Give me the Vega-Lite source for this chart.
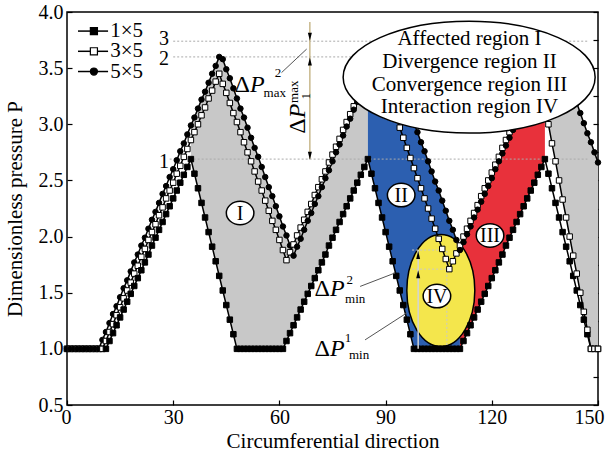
{
"$schema":"https://vega.github.io/schema/vega-lite/v6.json",
"width":531,"height":393,"autosize":"none",
"padding":{"left":67,"top":12,"right":12,"bottom":56},
"background":"white",
"config":{
 "view":{"stroke":"black","strokeWidth":1.5},
 "font":"Liberation Serif",
 "axis":{"grid":false,"domain":false,"labelFont":"Liberation Serif","labelFontSize":20,"labelColor":"black","tickColor":"black","tickWidth":1.2,"titleFont":"Liberation Serif","titleFontSize":21,"titleFontWeight":"normal","titleColor":"black"}
},
"resolve":{"axis":{"y":"independent"}},
"datasets":{"p":[
{"x":0,"1×5":1,"3×5":1,"5×5":1},{"x":1,"1×5":1,"3×5":1,"5×5":1},{"x":2,"1×5":1,"3×5":1,"5×5":1},{"x":3,"1×5":1,"3×5":1,"5×5":1},{"x":4,"1×5":1,"3×5":1,"5×5":1},{"x":5,"1×5":1,"3×5":1,"5×5":1},{"x":6,"1×5":1,"3×5":1,"5×5":1},{"x":7,"1×5":1,"3×5":1,"5×5":1},{"x":8,"1×5":1,"3×5":1,"5×5":1},{"x":9,"1×5":1,"3×5":1,"5×5":1},
{"x":10,"1×5":1,"3×5":1,"5×5":1.08},{"x":11,"1×5":1,"3×5":1.07,"5×5":1.15},{"x":12,"1×5":1.07,"3×5":1.15,"5×5":1.23},{"x":13,"1×5":1.14,"3×5":1.22,"5×5":1.31},{"x":14,"1×5":1.21,"3×5":1.30,"5×5":1.38},{"x":15,"1×5":1.28,"3×5":1.37,"5×5":1.46},{"x":16,"1×5":1.35,"3×5":1.45,"5×5":1.54},{"x":17,"1×5":1.42,"3×5":1.52,"5×5":1.61},{"x":18,"1×5":1.49,"3×5":1.59,"5×5":1.69},{"x":19,"1×5":1.56,"3×5":1.67,"5×5":1.77},
{"x":20,"1×5":1.63,"3×5":1.74,"5×5":1.84},{"x":21,"1×5":1.70,"3×5":1.82,"5×5":1.92},{"x":22,"1×5":1.77,"3×5":1.89,"5×5":1.99},{"x":23,"1×5":1.84,"3×5":1.97,"5×5":2.07},{"x":24,"1×5":1.92,"3×5":2.04,"5×5":2.15},{"x":25,"1×5":1.99,"3×5":2.11,"5×5":2.22},{"x":26,"1×5":2.06,"3×5":2.19,"5×5":2.30},{"x":27,"1×5":2.13,"3×5":2.26,"5×5":2.38},{"x":28,"1×5":2.20,"3×5":2.34,"5×5":2.45},{"x":29,"1×5":2.27,"3×5":2.41,"5×5":2.53},
{"x":30,"1×5":2.34,"3×5":2.48,"5×5":2.60},{"x":31,"1×5":2.41,"3×5":2.56,"5×5":2.68},{"x":32,"1×5":2.48,"3×5":2.63,"5×5":2.76},{"x":33,"1×5":2.55,"3×5":2.71,"5×5":2.83},{"x":34,"1×5":2.62,"3×5":2.78,"5×5":2.91},{"x":35,"1×5":2.69,"3×5":2.86,"5×5":2.99},{"x":36,"1×5":2.56,"3×5":2.93,"5×5":3.06},{"x":37,"1×5":2.43,"3×5":3.00,"5×5":3.14},{"x":38,"1×5":2.30,"3×5":3.08,"5×5":3.22},{"x":39,"1×5":2.17,"3×5":3.15,"5×5":3.29},
{"x":40,"1×5":2.04,"3×5":3.23,"5×5":3.37},{"x":41,"1×5":1.91,"3×5":3.30,"5×5":3.45},{"x":42,"1×5":1.78,"3×5":3.38,"5×5":3.52},{"x":43,"1×5":1.65,"3×5":3.45,"5×5":3.60},{"x":44,"1×5":1.52,"3×5":3.36,"5×5":3.58},{"x":45,"1×5":1.39,"3×5":3.28,"5×5":3.49},{"x":46,"1×5":1.26,"3×5":3.19,"5×5":3.41},{"x":47,"1×5":1.13,"3×5":3.10,"5×5":3.32},{"x":48,"1×5":1,"3×5":3.02,"5×5":3.23},{"x":49,"1×5":1,"3×5":2.93,"5×5":3.14},
{"x":50,"1×5":1,"3×5":2.84,"5×5":3.06},{"x":51,"1×5":1,"3×5":2.75,"5×5":2.97},{"x":52,"1×5":1,"3×5":2.67,"5×5":2.88},{"x":53,"1×5":1,"3×5":2.58,"5×5":2.79},{"x":54,"1×5":1,"3×5":2.49,"5×5":2.71},{"x":55,"1×5":1,"3×5":2.41,"5×5":2.62},{"x":56,"1×5":1,"3×5":2.32,"5×5":2.53},{"x":57,"1×5":1,"3×5":2.23,"5×5":2.44},{"x":58,"1×5":1,"3×5":2.14,"5×5":2.36},{"x":59,"1×5":1,"3×5":2.06,"5×5":2.27},
{"x":60,"1×5":1,"3×5":1.97,"5×5":2.18},{"x":61,"1×5":1,"3×5":1.88,"5×5":2.09},{"x":62,"1×5":1.07,"3×5":1.79,"5×5":2.01},{"x":63,"1×5":1.14,"3×5":1.86,"5×5":1.92},{"x":64,"1×5":1.21,"3×5":1.93,"5×5":1.83},{"x":65,"1×5":1.28,"3×5":2.01,"5×5":1.91},{"x":66,"1×5":1.35,"3×5":2.08,"5×5":1.98},{"x":67,"1×5":1.42,"3×5":2.15,"5×5":2.06},{"x":68,"1×5":1.49,"3×5":2.22,"5×5":2.14},{"x":69,"1×5":1.56,"3×5":2.29,"5×5":2.21},
{"x":70,"1×5":1.63,"3×5":2.37,"5×5":2.29},{"x":71,"1×5":1.70,"3×5":2.44,"5×5":2.36},{"x":72,"1×5":1.77,"3×5":2.51,"5×5":2.44},{"x":73,"1×5":1.84,"3×5":2.58,"5×5":2.52},{"x":74,"1×5":1.92,"3×5":2.66,"5×5":2.59},{"x":75,"1×5":1.99,"3×5":2.73,"5×5":2.67},{"x":76,"1×5":2.06,"3×5":2.80,"5×5":2.75},{"x":77,"1×5":2.13,"3×5":2.87,"5×5":2.82},{"x":78,"1×5":2.20,"3×5":2.95,"5×5":2.90},{"x":79,"1×5":2.27,"3×5":3.02,"5×5":2.98},
{"x":80,"1×5":2.34,"3×5":3.09,"5×5":3.05},{"x":81,"1×5":2.41,"3×5":3.16,"5×5":3.13},{"x":82,"1×5":2.48,"3×5":3.24,"5×5":3.20},{"x":83,"1×5":2.55,"3×5":3.31,"5×5":3.28},{"x":84,"1×5":2.62,"3×5":3.38,"5×5":3.36},{"x":85,"1×5":2.69,"3×5":3.45,"5×5":3.43},{"x":86,"1×5":2.56,"3×5":3.53,"5×5":3.51},{"x":87,"1×5":2.43,"3×5":3.60,"5×5":3.59},{"x":88,"1×5":2.30,"3×5":3.51,"5×5":3.66},{"x":89,"1×5":2.17,"3×5":3.42,"5×5":3.74},
{"x":90,"1×5":2.04,"3×5":3.33,"5×5":3.72},{"x":91,"1×5":1.91,"3×5":3.24,"5×5":3.63},{"x":92,"1×5":1.78,"3×5":3.15,"5×5":3.54},{"x":93,"1×5":1.65,"3×5":3.06,"5×5":3.45},{"x":94,"1×5":1.52,"3×5":2.97,"5×5":3.37},{"x":95,"1×5":1.39,"3×5":2.88,"5×5":3.28},{"x":96,"1×5":1.26,"3×5":2.79,"5×5":3.19},{"x":97,"1×5":1.13,"3×5":2.70,"5×5":3.11},{"x":98,"1×5":1,"3×5":2.61,"5×5":3.02},{"x":99,"1×5":1,"3×5":2.52,"5×5":2.93},
{"x":100,"1×5":1,"3×5":2.43,"5×5":2.84},{"x":101,"1×5":1,"3×5":2.34,"5×5":2.76},{"x":102,"1×5":1,"3×5":2.25,"5×5":2.67},{"x":103,"1×5":1,"3×5":2.16,"5×5":2.58},{"x":104,"1×5":1,"3×5":2.07,"5×5":2.49},{"x":105,"1×5":1,"3×5":1.98,"5×5":2.41},{"x":106,"1×5":1,"3×5":1.89,"5×5":2.32},{"x":107,"1×5":1,"3×5":1.80,"5×5":2.23},{"x":108,"1×5":1,"3×5":1.71,"5×5":2.14},{"x":109,"1×5":1,"3×5":1.78,"5×5":2.06},
{"x":110,"1×5":1,"3×5":1.85,"5×5":1.97},{"x":111,"1×5":1,"3×5":1.92,"5×5":1.88},{"x":112,"1×5":1.07,"3×5":2.00,"5×5":1.95},{"x":113,"1×5":1.14,"3×5":2.07,"5×5":2.02},{"x":114,"1×5":1.21,"3×5":2.14,"5×5":2.09},{"x":115,"1×5":1.28,"3×5":2.21,"5×5":2.17},{"x":116,"1×5":1.35,"3×5":2.28,"5×5":2.24},{"x":117,"1×5":1.42,"3×5":2.36,"5×5":2.31},{"x":118,"1×5":1.49,"3×5":2.43,"5×5":2.38},{"x":119,"1×5":1.56,"3×5":2.50,"5×5":2.45},
{"x":120,"1×5":1.63,"3×5":2.57,"5×5":2.52},{"x":121,"1×5":1.70,"3×5":2.64,"5×5":2.60},{"x":122,"1×5":1.77,"3×5":2.71,"5×5":2.67},{"x":123,"1×5":1.84,"3×5":2.79,"5×5":2.74},{"x":124,"1×5":1.92,"3×5":2.86,"5×5":2.81},{"x":125,"1×5":1.99,"3×5":2.93,"5×5":2.88},{"x":126,"1×5":2.06,"3×5":3.00,"5×5":2.95},{"x":127,"1×5":2.13,"3×5":3.07,"5×5":3.03},{"x":128,"1×5":2.20,"3×5":3.14,"5×5":3.10},{"x":129,"1×5":2.27,"3×5":3.21,"5×5":3.17},
{"x":130,"1×5":2.34,"3×5":3.29,"5×5":3.24},{"x":131,"1×5":2.41,"3×5":3.36,"5×5":3.31},{"x":132,"1×5":2.48,"3×5":3.43,"5×5":3.38},{"x":133,"1×5":2.55,"3×5":3.50,"5×5":3.45},{"x":134,"1×5":2.62,"3×5":3.33,"5×5":3.53},{"x":135,"1×5":2.69,"3×5":3.17,"5×5":3.60},{"x":136,"1×5":2.56,"3×5":3.00,"5×5":3.67},{"x":137,"1×5":2.43,"3×5":2.83,"5×5":3.74},{"x":138,"1×5":2.30,"3×5":2.67,"5×5":3.72},{"x":139,"1×5":2.17,"3×5":2.50,"5×5":3.63},
{"x":140,"1×5":2.04,"3×5":2.33,"5×5":3.54},{"x":141,"1×5":1.91,"3×5":2.17,"5×5":3.45},{"x":142,"1×5":1.78,"3×5":2.00,"5×5":3.37},{"x":143,"1×5":1.65,"3×5":1.83,"5×5":3.28},{"x":144,"1×5":1.52,"3×5":1.67,"5×5":3.19},{"x":145,"1×5":1.39,"3×5":1.50,"5×5":3.10},{"x":146,"1×5":1.26,"3×5":1.33,"5×5":3.01},{"x":147,"1×5":1.13,"3×5":1.17,"5×5":2.92},{"x":148,"1×5":1,"3×5":1,"5×5":2.84},{"x":149,"1×5":1,"3×5":1,"5×5":2.75},
{"x":150,"1×5":1,"3×5":1,"5×5":2.66}
],
"key":[{"s":"1×5","x":3.1,"x2":11.6,"xm":7.6,"xt":12.2,"y":3.83},{"s":"3×5","x":3.1,"x2":11.6,"xm":7.6,"xt":12.2,"y":3.65},{"s":"5×5","x":3.1,"x2":11.6,"xm":7.6,"xt":12.2,"y":3.47}]
},
"layer":[
{"data":{"name":"p"},"transform":[{"filter":"datum.x>=35 && datum.x<=85"},{"calculate":"max(datum['3×5'],datum['5×5'])","as":"hi"}],
 "mark":{"type":"area","color":"#c8c8c8","opacity":1},
 "encoding":{
  "x":{"field":"x","type":"quantitative","scale":{"domain":[0,150],"nice":false,"zero":false},
   "axis":{"values":[0,30,60,90,120,150],"title":"Circumferential direction","tickSize":-5,"labelPadding":7,"labelFlush":true,"labelFlushOffset":6,"titleX":265.5,"titleY":36,"titleBaseline":"middle"}},
  "y":{"field":"1×5","type":"quantitative","scale":{"domain":[0.5,4],"nice":false,"zero":false},
   "axis":{"values":[0.5,1,1.5,2,2.5,3,3.5,4],"format":".1f","title":"Dimensionless pressure P","tickSize":-5,"labelPadding":9,"labelFlush":false,"titleX":-52,"titleY":196.5,"titleAngle":270,"titleAlign":"center","titleBaseline":"middle"}},
  "y2":{"field":"hi"}}},
{"data":{"name":"p"},"transform":[{"filter":"datum.x>=85 && datum.x<=111"}],
 "mark":{"type":"area","color":"#2c5fb0","opacity":1},
 "encoding":{"x":{"field":"x","type":"quantitative"},"y":{"field":"1×5","type":"quantitative","axis":null},"y2":{"field":"5×5"}}},
{"data":{"name":"p"},"transform":[{"filter":"datum.x>=111 && datum.x<=135"}],
 "mark":{"type":"area","color":"#e8313b","opacity":1},
 "encoding":{"x":{"field":"x","type":"quantitative"},"y":{"field":"1×5","type":"quantitative","axis":null},"y2":{"field":"5×5"}}},
{"data":{"name":"p"},"transform":[{"filter":"datum.x>=135 && datum.x<=150"}],
 "mark":{"type":"area","color":"#c8c8c8","opacity":1},
 "encoding":{"x":{"field":"x","type":"quantitative"},"y":{"field":"3×5","type":"quantitative","axis":null},"y2":{"field":"5×5"}}},
{"data":{"values":[{"x":105.6,"y":1.52}]},
 "mark":{"type":"point","shape":"M-0.607,0C-0.607,-0.552 -0.335,-1 0,-1C0.335,-1 0.607,-0.552 0.607,0C0.607,0.552 0.335,1 0,1C-0.335,1 -0.607,0.552 -0.607,0Z","size":12544,"filled":true,"fill":"#f4e64c","stroke":"black","strokeWidth":1.5,"opacity":1},
 "encoding":{"x":{"field":"x","type":"quantitative"},"y":{"field":"y","type":"quantitative","axis":null}}},
{"data":{"values":[{"x":29,"x2":147,"y":2.69},{"x":30,"x2":147,"y":3.6},{"x":30,"x2":147,"y":3.74}]},
 "mark":{"type":"rule","color":"#aaaaaa","strokeWidth":1,"strokeDash":[2,2]},
 "encoding":{"x":{"field":"x","type":"quantitative"},"x2":{"field":"x2"},
  "y":{"field":"y","type":"quantitative","axis":{"orient":"right","values":[0.5,0.75,1,1.25,1.5,1.75,2,2.25,2.5,2.75,3,3.25,3.5,3.75,4],"labels":false,"title":null,"tickSize":-5,"domain":false}}}},
{"data":{"values":[{"x":97.5,"x2":105.5,"y":1.88,"y2":1.88},{"x":97.5,"x2":108,"y":1.71,"y2":1.71},{"x":107.3,"x2":107.3,"y":1.0,"y2":1.88}]},
 "mark":{"type":"rule","color":"#c9c9c9","strokeWidth":1,"strokeDash":[2,2]},
 "encoding":{"x":{"field":"x","type":"quantitative"},"x2":{"field":"x2"},"y":{"field":"y","type":"quantitative","axis":null},"y2":{"field":"y2"}}},
{"data":{"name":"p"},"transform":[{"fold":["1×5","3×5","5×5"],"as":["series","v"]}],
 "mark":{"type":"line","color":"black","strokeWidth":1.5},
 "encoding":{"x":{"field":"x","type":"quantitative"},"y":{"field":"v","type":"quantitative","axis":null},"detail":{"field":"series","type":"nominal"}}},
{"data":{"name":"p"},"transform":[{"fold":["1×5","3×5","5×5"],"as":["series","v"]}],
 "mark":{"type":"point","filled":true,"stroke":"black","strokeWidth":1,"size":30,"opacity":1},
 "encoding":{"x":{"field":"x","type":"quantitative"},"y":{"field":"v","type":"quantitative","axis":null},
  "shape":{"field":"series","type":"nominal","scale":{"domain":["1×5","3×5","5×5"],"range":["square","square","circle"]},"legend":null},
  "fill":{"field":"series","type":"nominal","scale":{"domain":["1×5","3×5","5×5"],"range":["black","white","black"]},"legend":null}}},
{"data":{"name":"key"},
 "mark":{"type":"rule","color":"black","strokeWidth":1.5},
 "encoding":{"x":{"field":"x","type":"quantitative"},"x2":{"field":"x2"},"y":{"field":"y","type":"quantitative","axis":null}}},
{"data":{"name":"key"},
 "mark":{"type":"point","filled":true,"stroke":"black","strokeWidth":1.2,"size":50,"opacity":1},
 "encoding":{"x":{"field":"xm","type":"quantitative"},"y":{"field":"y","type":"quantitative","axis":null},
  "shape":{"field":"s","type":"nominal","legend":null},
  "fill":{"field":"s","type":"nominal","legend":null}}},
{"data":{"name":"key"},
 "mark":{"type":"text","font":"Liberation Serif","fontSize":21,"color":"black","align":"left","baseline":"middle"},
 "encoding":{"x":{"field":"xt","type":"quantitative"},"y":{"field":"y","type":"quantitative","axis":null},"text":{"field":"s"}}},
{"data":{"values":[{"x":113.6,"y":3.42}]},
 "mark":{"type":"point","shape":"M-1,0C-1,-0.245 -0.552,-0.444 0,-0.444C0.552,-0.444 1,-0.245 1,0C1,0.245 0.552,0.444 0,0.444C-0.552,0.444 -1,0.245 -1,0Z","size":63504,"filled":true,"fill":"white","stroke":"black","strokeWidth":1.5,"opacity":1},
 "encoding":{"x":{"field":"x","type":"quantitative"},"y":{"field":"y","type":"quantitative","axis":null}}},
{"data":{"values":[{"x":113.7,"y":3.76,"t":"Affected region I"},{"x":113.7,"y":3.555,"t":"Divergence region II"},{"x":113.7,"y":3.35,"t":"Convergence region III"},{"x":113.7,"y":3.15,"t":"Interaction region IV"}]},
 "mark":{"type":"text","font":"Liberation Serif","fontSize":21,"color":"black","align":"center","baseline":"middle"},
 "encoding":{"x":{"field":"x","type":"quantitative"},"y":{"field":"y","type":"quantitative","axis":null},"text":{"field":"t"}}},
{"data":{"values":[{"x":48.9,"y":2.21,"t":"I"},{"x":94.4,"y":2.37,"t":"II"},{"x":119.5,"y":2.01,"t":"III"},{"x":104.5,"y":1.47,"t":"IV"}]},
 "mark":{"type":"point","shape":"M-1,0C-1,-0.469 -0.552,-0.85 0,-0.85C0.552,-0.85 1,-0.469 1,0C1,0.469 0.552,0.85 0,0.85C-0.552,0.85 -1,0.469 -1,0Z","size":760,"filled":true,"fill":"white","stroke":"black","strokeWidth":1.5,"opacity":1},
 "encoding":{"x":{"field":"x","type":"quantitative"},"y":{"field":"y","type":"quantitative","axis":null}}},
{"data":{"values":[{"x":48.9,"y":2.21,"t":"I"},{"x":94.4,"y":2.37,"t":"II"},{"x":119.5,"y":2.01,"t":"III"},{"x":104.5,"y":1.47,"t":"IV"}]},
 "mark":{"type":"text","font":"Liberation Serif","fontSize":20,"color":"black","align":"center","baseline":"middle","dy":1},
 "encoding":{"x":{"field":"x","type":"quantitative"},"y":{"field":"y","type":"quantitative","axis":null},"text":{"field":"t"}}},
{"data":{"values":[{"x":68.6,"y":3.91,"y2":2.69}]},
 "mark":{"type":"rule","color":"#c8b88c","strokeWidth":1.5},
 "encoding":{"x":{"field":"x","type":"quantitative"},"y":{"field":"y","type":"quantitative","axis":null},"y2":{"field":"y2"}}},
{"data":{"values":[{"x":99.2,"y":1.0,"y2":1.88}]},
 "mark":{"type":"rule","color":"#d4d4d4","strokeWidth":1.5},
 "encoding":{"x":{"field":"x","type":"quantitative"},"y":{"field":"y","type":"quantitative","axis":null},"y2":{"field":"y2"}}},
{"data":{"values":[{"x":68.6,"y":3.78},{"x":68.6,"y":2.72}]},
 "mark":{"type":"point","shape":"M-0.5,-1L0.5,-1L0,1Z","size":64,"filled":true,"color":"black","opacity":1},
 "encoding":{"x":{"field":"x","type":"quantitative"},"y":{"field":"y","type":"quantitative","axis":null}}},
{"data":{"values":[{"x":68.6,"y":3.56},{"x":99.2,"y":1.835},{"x":99.2,"y":1.665}]},
 "mark":{"type":"point","shape":"M-0.5,1L0.5,1L0,-1Z","size":64,"filled":true,"color":"black","opacity":1},
 "encoding":{"x":{"field":"x","type":"quantitative"},"y":{"field":"y","type":"quantitative","axis":null}}},
{"data":{"values":[{"x":60.6,"x2":67.7,"y":3.46,"y2":3.67},{"x":82.8,"x2":92.7,"y":1.556,"y2":1.676},{"x":84.2,"x2":96.0,"y":1.08,"y2":1.32}]},
 "mark":{"type":"rule","color":"#555555","strokeWidth":1},
 "encoding":{"x":{"field":"x","type":"quantitative"},"x2":{"field":"x2"},"y":{"field":"y","type":"quantitative","axis":null},"y2":{"field":"y2"}}},
{"data":{"values":[{"x":51.7,"y":3.29},{"x":74.3,"y":1.47},{"x":74.3,"y":0.94}]},
 "mark":{"type":"text","text":"Δ","font":"Liberation Serif","fontSize":24,"color":"black","align":"right","baseline":"alphabetic"},
 "encoding":{"x":{"field":"x","type":"quantitative"},"y":{"field":"y","type":"quantitative","axis":null}}},
{"data":{"values":[{"x":51.7,"y":3.29},{"x":74.3,"y":1.47},{"x":74.3,"y":0.94}]},
 "mark":{"type":"text","text":"P","font":"Liberation Serif","fontStyle":"italic","fontSize":24,"color":"black","align":"left","baseline":"alphabetic"},
 "encoding":{"x":{"field":"x","type":"quantitative"},"y":{"field":"y","type":"quantitative","axis":null}}},
{"data":{"values":[{"x":59.6,"y":3.46,"t":"2"},{"x":79.9,"y":1.61,"t":"2"},{"x":79.4,"y":1.1,"t":"1"},{"x":58.7,"y":3.28,"t":"max"},{"x":81.4,"y":1.445,"t":"min"},{"x":82.5,"y":0.945,"t":"min"}]},
 "mark":{"type":"text","font":"Liberation Serif","fontSize":13,"color":"black","align":"center","baseline":"middle"},
 "encoding":{"x":{"field":"x","type":"quantitative"},"y":{"field":"y","type":"quantitative","axis":null},"text":{"field":"t"}}},
{"data":{"values":[{"x":65.25,"y":3.054}]},
 "mark":{"type":"text","text":"Δ","angle":270,"font":"Liberation Serif","fontSize":24,"color":"black","align":"right","baseline":"middle"},
 "encoding":{"x":{"field":"x","type":"quantitative"},"y":{"field":"y","type":"quantitative","axis":null}}},
{"data":{"values":[{"x":65.25,"y":3.054}]},
 "mark":{"type":"text","text":"P","angle":270,"font":"Liberation Serif","fontStyle":"italic","fontSize":24,"color":"black","align":"left","baseline":"middle"},
 "encoding":{"x":{"field":"x","type":"quantitative"},"y":{"field":"y","type":"quantitative","axis":null}}},
{"data":{"values":[{"x":64.1,"y":3.29,"t":"max"},{"x":67.4,"y":3.25,"t":"1"}]},
 "mark":{"type":"text","angle":270,"font":"Liberation Serif","fontSize":13,"color":"black","align":"center","baseline":"middle"},
 "encoding":{"x":{"field":"x","type":"quantitative"},"y":{"field":"y","type":"quantitative","axis":null},"text":{"field":"t"}}},
{"data":{"values":[{"x":27.4,"y":2.66,"t":"1"},{"x":27.4,"y":3.58,"t":"2"},{"x":27.4,"y":3.76,"t":"3"}]},
 "mark":{"type":"text","font":"Liberation Serif","fontSize":20,"color":"black","align":"center","baseline":"middle"},
 "encoding":{"x":{"field":"x","type":"quantitative"},"y":{"field":"y","type":"quantitative","axis":null},"text":{"field":"t"}}}
]
}
